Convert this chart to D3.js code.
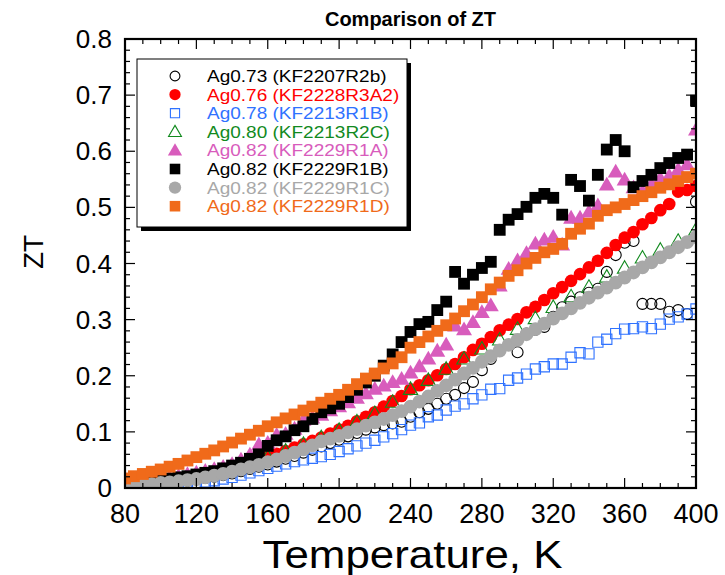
<!DOCTYPE html>
<html>
<head>
<meta charset="utf-8">
<script src="https://cdn.jsdelivr.net/npm/d3@7"></script>
<style>
  body { margin: 0; background: #fff; }
  text { font-family: "Liberation Sans", Arial, sans-serif; }
</style>
</head>
<body>
<svg width="725" height="575"></svg>
<script>
// temperatures (K)
let temps5 = [80,85,90,95,100,105,110,115,120,125,130,135,140,145,150,155,160,165,170,175,180,185,190,195,200,205,210,215,220,225,230,235,240,245,250,255,260,265,270,275,280,285,290,295,300,305,310,315,320,325,330,335,340,345,350,355,360,365,370,375,380,385,390,395,400];
let temps10 = [80,90,100,110,120,130,140,150,160,170,180,190,200,210,220,230,240,250,260,270,280,290,300,310,320,330,340,350,360,370,380,390,400];

let zt_R2b = [.004,.005,.006,.007,.008,.010,.011,.013,.015,.018,.020,.023,.026,.030,.034,.038,.042,.047,.052,.057,.063,.068,.074,.080,.086,.092,.098,.104,.108,.112,.115,.118,.127,.135,.141,.150,.159,.166,.178,.189,.210,.230,.246,.255,.242,.275,.282,.287,.305,.322,.332,.340,.348,.355,.385,.415,.437,.440,.328,.328,.328,.314,.317,.310,.510];
let zt_R3A2 = [.006,.007,.009,.010,.012,.014,.017,.019,.022,.025,.029,.032,.036,.041,.045,.050,.055,.061,.066,.072,.078,.084,.090,.097,.104,.111,.119,.127,.135,.145,.155,.164,.176,.183,.192,.201,.212,.221,.233,.246,.257,.269,.281,.291,.301,.313,.323,.335,.347,.358,.369,.381,.393,.405,.419,.433,.446,.456,.470,.481,.495,.506,.528,.531,.538];
let zt_R1B78 = [.000,.001,.001,.002,.003,.004,.005,.007,.009,.011,.013,.016,.019,.023,.027,.031,.035,.039,.043,.047,.050,.053,.056,.060,.065,.070,.075,.080,.085,.091,.097,.104,.112,.116,.127,.130,.139,.146,.150,.159,.166,.176,.177,.192,.196,.203,.212,.216,.221,.221,.233,.241,.239,.260,.265,.275,.283,.284,.287,.284,.292,.301,.305,.310,.319];
let zt_R2C = [.006,.009,.012,.016,.021,.028,.036,.045,.055,.066,.078,.090,.103,.118,.133,.153,.176,.192,.212,.230,.248,.264,.283,.302,.322,.341,.358,.376,.392,.410,.424,.440,.460];
let zt_R1A = [.008,.010,.012,.014,.016,.018,.021,.024,.027,.030,.033,.037,.042,.050,.059,.077,.080,.094,.096,.105,.121,.125,.130,.138,.145,.152,.160,.168,.176,.182,.188,.194,.205,.216,.230,.244,.255,.289,.282,.295,.313,.325,.360,.390,.405,.418,.435,.442,.447,.433,.481,.481,.492,.503,.540,.563,.549,.535,.528,.540,.551,.556,.567,.576,.638];
let zt_R1B82 = [.010,.011,.012,.013,.015,.017,.019,.021,.024,.027,.030,.035,.040,.045,.052,.060,.075,.085,.092,.103,.110,.123,.135,.142,.150,.162,.175,.188,.200,.218,.238,.260,.278,.292,.296,.317,.332,.385,.364,.380,.392,.403,.460,.478,.488,.501,.517,.524,.517,.487,.549,.538,.512,.558,.603,.620,.600,.536,.547,.558,.570,.579,.588,.594,.690];
let zt_R1C = [.004,.005,.006,.007,.009,.010,.012,.014,.016,.019,.022,.025,.029,.033,.037,.041,.046,.051,.057,.063,.069,.076,.083,.088,.093,.099,.105,.111,.117,.123,.130,.137,.145,.154,.163,.173,.183,.193,.204,.214,.225,.235,.245,.255,.264,.274,.283,.293,.302,.311,.320,.330,.339,.348,.357,.366,.375,.384,.393,.402,.411,.420,.429,.438,.447];
let zt_R1D = [.017,.021,.025,.029,.033,.038,.043,.049,.055,.061,.067,.074,.081,.088,.095,.102,.110,.117,.124,.131,.138,.145,.152,.159,.166,.175,.185,.195,.204,.213,.222,.233,.250,.260,.270,.280,.290,.302,.315,.327,.340,.354,.366,.378,.388,.400,.410,.420,.426,.435,.453,.462,.471,.485,.495,.500,.506,.513,.520,.527,.535,.541,.547,.554,.560];

let labels = ["Ag0.73 (KF2207R2b)","Ag0.76 (KF2228R3A2)","Ag0.78 (KF2213R1B)","Ag0.80 (KF2213R2C)","Ag0.82 (KF2229R1A)","Ag0.82 (KF2229R1B)","Ag0.82 (KF2229R1C)","Ag0.82 (KF2229R1D)"];
let colors = ["#000000","#ff0000","#2f72ff","#118a1e","#d85cbc","#000000","#a8a8a8","#f06a1a"];
let shapes = ["circle","circle","square","triangle","triangle","square","circle","square"];
let filled = [false,true,false,false,true,true,true,true];
let sizes = [95,125,105,90,110,140,150,140];
let xTicks = [80,120,160,200,240,280,320,360,400];
let yTicks = [0,0.1,0.2,0.3,0.4,0.5,0.6,0.7,0.8];

let series = [
  {T: temps5, v: zt_R2b}, {T: temps5, v: zt_R3A2}, {T: temps5, v: zt_R1B78}, {T: temps10, v: zt_R2C},
  {T: temps5, v: zt_R1A}, {T: temps5, v: zt_R1B82}, {T: temps5, v: zt_R1C}, {T: temps5, v: zt_R1D}
];

let svg = d3.select("svg"),
    margin = {top: 39, right: 29, bottom: 87, left: 125},
    width = 725 - margin.left - margin.right,
    height = 575 - margin.top - margin.bottom,
    g = svg.append("g").attr("transform", "translate(" + margin.left + "," + margin.top + ")");

let x = d3.scaleLinear().domain([80, 400]).range([0, width]);
let y = d3.scaleLinear().domain([0, 0.8]).range([height, 0]);

let symType = {circle: d3.symbolCircle, square: d3.symbolSquare, triangle: d3.symbolTriangle};

g.append("clipPath").attr("id", "clip")
  .append("rect").attr("width", width).attr("height", height);

// markers
let plot = g.append("g").attr("clip-path", "url(#clip)");
series.forEach(function(s, i) {
  let sym = d3.symbol().type(symType[shapes[i]]).size(sizes[i]);
  plot.append("g").selectAll("path")
    .data(s.v.map(function(v, j) { return [s.T[j], v]; }))
    .enter().append("path")
    .attr("d", sym)
    .attr("transform", function(d) {
      let dy = shapes[i] === "triangle" ? 1 : 0;
      return "translate(" + x(d[0]) + "," + (y(d[1]) + dy) + ")";
    })
    .attr("fill", filled[i] ? colors[i] : "none")
    .attr("stroke", filled[i] ? "none" : colors[i])
    .attr("stroke-width", 1.1);
});

// ticks (inward, on all four sides)
let xMinor = d3.range(80, 401, 10), yMinor = d3.range(0, 0.801, 0.02);
let tk = g.append("g").attr("stroke", "#000").attr("stroke-width", 1.2);
xMinor.forEach(function(t) {
  let len = xTicks.indexOf(t) >= 0 ? 10 : 5;
  tk.append("line").attr("x1", x(t)).attr("x2", x(t)).attr("y1", height).attr("y2", height - len);
  tk.append("line").attr("x1", x(t)).attr("x2", x(t)).attr("y1", 0).attr("y2", len);
});
yMinor.forEach(function(t) {
  let major = Math.abs(t * 10 - Math.round(t * 10)) < 1e-6;
  let len = major ? 10 : 5;
  tk.append("line").attr("x1", 0).attr("x2", len).attr("y1", y(t)).attr("y2", y(t));
  tk.append("line").attr("x1", width).attr("x2", width - len).attr("y1", y(t)).attr("y2", y(t));
});

g.append("rect").attr("width", width).attr("height", height)
  .attr("fill", "none").attr("stroke", "#000").attr("stroke-width", 2.2);

// tick labels
g.selectAll(".xl").data(xTicks).enter().append("text")
  .attr("x", function(d) { return x(d); }).attr("y", height + 35)
  .attr("text-anchor", "middle").attr("font-size", 27).text(function(d) { return d; });
g.selectAll(".yl").data(yTicks).enter().append("text")
  .attr("x", -13).attr("y", function(d) { return y(d) + 9; })
  .attr("text-anchor", "end").attr("font-size", 26).text(function(d) { return d; });

// axis titles
svg.append("text").attr("x", margin.left + width / 2 + 2).attr("y", 568)
  .attr("text-anchor", "middle").attr("font-size", 39)
  .attr("textLength", 300).attr("lengthAdjust", "spacingAndGlyphs")
  .text("Temperature, K");
svg.append("text").attr("transform", "translate(43,252) rotate(-90)")
  .attr("text-anchor", "middle").attr("font-size", 28).text("ZT");
svg.append("text").attr("x", margin.left + width / 2).attr("y", 26)
  .attr("text-anchor", "middle").attr("font-size", 20).attr("font-weight", "bold")
  .text("Comparison of ZT");

// legend
let lg = svg.append("g").attr("transform", "translate(137,59)");
lg.append("rect").attr("x", 4).attr("y", 4).attr("width", 270).attr("height", 168).attr("fill", "#000");
lg.append("rect").attr("width", 270).attr("height", 168).attr("fill", "#fff").attr("stroke", "#000").attr("stroke-width", 1);
labels.forEach(function(l, i) {
  let yy = 17 + i * 18.6;
  let sym = d3.symbol().type(symType[shapes[i]]).size(sizes[i] * 0.8);
  lg.append("path").attr("d", sym)
    .attr("transform", "translate(38," + (yy + (shapes[i] === "triangle" ? 1 : 0)) + ")")
    .attr("fill", filled[i] ? colors[i] : "none")
    .attr("stroke", filled[i] ? "none" : colors[i]).attr("stroke-width", 1.1);
  let t = lg.append("text").attr("x", 70).attr("y", yy + 6).attr("font-size", 19)
    .attr("fill", colors[i]).text(l);
  // keep the wide look of the reference but a line height that fits the rows
  let w = t.node().getComputedTextLength();
  t.attr("font-size", 16.5).attr("textLength", w).attr("lengthAdjust", "spacingAndGlyphs");
});
</script>
</body>
</html>
